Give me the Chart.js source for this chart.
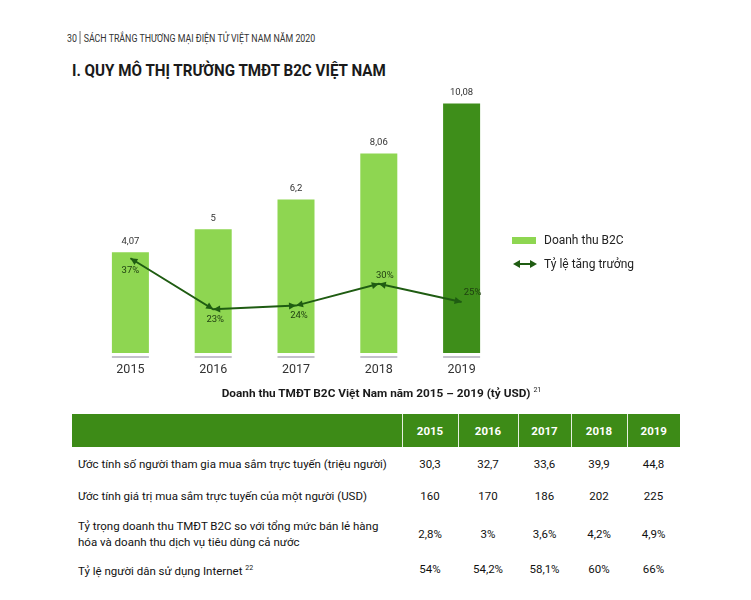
<!DOCTYPE html>
<html lang="vi">
<head>
<meta charset="utf-8">
<title>Quy mô thị trường TMĐT B2C Việt Nam</title>
<script src="https://cdn.jsdelivr.net/npm/chart.js@4.4.1/dist/chart.umd.min.js"></script>
<style>
  html, body { margin: 0; padding: 0; background: #fff; }
  body { width: 751px; height: 600px; position: relative; overflow: hidden; font-family: Roboto, "Open Sans", sans-serif; color: #222; }
  .abs { position: absolute; white-space: nowrap; }
  #pagehead { left: 67px; top: 31px; font-size: 10.5px; color: #333; transform: scaleX(0.84); transform-origin: left center; }
  #pagehead .sep { display: inline-block; width: 1px; height: 13px; background: #555; vertical-align: -2px; margin: 0 4px 0 3px; }
  #title { left: 72px; top: 61px; font-size: 16.5px; font-weight: 700; color: #1a1a1a; transform: scaleX(0.92); transform-origin: left center; }
  #chartBox { left: 70px; top: 70px; width: 450px; height: 320px; }
  .leg { font-size: 12px; color: #222; }
  .legBox { left: 512px; top: 237px; width: 24px; height: 7px; background: #8ed651; }
  #caption { left: 6px; width: 751px; top: 386px; text-align: center; font-size: 11.8px; font-weight: 700; color: #1a1a1a; }
  #caption sup { font-size: 7px; font-weight: 400; }
  table { position: absolute; left: 72px; top: 414px; border-collapse: collapse; table-layout: fixed; font-size: 11.5px; }
  th { background: #3d8b17; color: #fff; font-weight: 700; height: 33px; padding: 0; text-align: center; border-left: 1px solid #e6efe0; }
  th:first-child { border-left: none; }
  td { padding: 0 0 0 6px; color: #111; vertical-align: middle; line-height: 16px; }
  td.num { text-align: center; padding: 0; }
  td sup { font-size: 7px; }
</style>
</head>
<body>
<div id="pagehead" class="abs">30<span class="sep"></span>SÁCH TRẮNG THƯƠNG MẠI ĐIỆN TỬ VIỆT NAM NĂM 2020</div>
<div id="title" class="abs">I. QUY MÔ THỊ TRƯỜNG TMĐT B2C VIỆT NAM</div>

<div id="chartBox" class="abs"><canvas id="chart"></canvas></div>

<div class="abs legBox"></div>
<div class="abs leg" style="left:544px; top:233px;">Doanh thu B2C</div>
<svg class="abs" style="left:513px; top:259px;" width="24" height="10">
  <line x1="4" y1="5" x2="20" y2="5" stroke="#1f5c12" stroke-width="2"/>
  <polygon points="0,5 7,1 7,9" fill="#1f5c12"/>
  <polygon points="24,5 17,1 17,9" fill="#1f5c12"/>
</svg>
<div class="abs leg" style="left:544px; top:257px;">Tỷ lệ tăng trưởng</div>

<div id="caption" class="abs">Doanh thu TMĐT B2C Việt Nam năm 2015 – 2019 (tỷ USD) <sup>21</sup></div>

<table id="tbl"></table>

<script>
// chart data
const years = ['2015', '2016', '2017', '2018', '2019'];
const revenue = [4.07, 5, 6.2, 8.06, 10.08];      // Doanh thu B2C (tỷ USD)
const growth = [37, 23, 24, 30, 25];              // Tỷ lệ tăng trưởng (%)

// table data
const rowLabels = [
  'Ước tính số người tham gia mua sắm trực tuyến (triệu người)',
  'Ước tính giá trị mua sắm trực tuyến của một người (USD)',
  'Tỷ trọng doanh thu TMĐT B2C so với tổng mức bán lẻ hàng<br>hóa và doanh thu dịch vụ tiêu dùng cả nước',
  'Tỷ lệ người dân sử dụng Internet <sup>22</sup>'
];
const buyers = [30.3, 32.7, 33.6, 39.9, 44.8];
const spendPerPerson = [160, 170, 186, 202, 225];
const retailShare = [2.8, 3, 3.6, 4.2, 4.9];
const internetUsers = [54, 54.2, 58.1, 60, 66];

const vn = v => String(v).replace('.', ',');

// build the table
const rows = [
  buyers.map(vn),
  spendPerPerson.map(vn),
  retailShare.map(v => vn(v) + '%'),
  internetUsers.map(v => vn(v) + '%')
];
const rowHeights = [34, 30, 45, 26];
const colWidths = [330, 56, 60, 53, 56, 53];
let html = '<colgroup>' + colWidths.map(w => '<col style="width:' + w + 'px">').join('') + '</colgroup>';
html += '<tr><th></th>' + years.map(y => '<th>' + y + '</th>').join('') + '</tr>';
rows.forEach((r, i) => {
  html += '<tr style="height:' + rowHeights[i] + 'px"><td>' + rowLabels[i] + '</td>' +
    r.map(v => '<td class="num">' + v + '</td>').join('') + '</tr>';
});
document.getElementById('tbl').innerHTML = html;

const lightGreen = '#8ed651';
const darkGreen = '#3e8e1a';
const lineGreen = '#1f5c12';

// label offsets for the growth percentages (dx, dy from the point)
const growthLabelOffset = [[0, 12], [2, 10], [3, 10], [6, -8], [11, -9]];

const decor = {
  id: 'decor',
  afterDatasetsDraw(chart) {
    const ctx = chart.ctx;
    const bars = chart.getDatasetMeta(1).data;
    const pts = chart.getDatasetMeta(0).data;
    ctx.save();

    // grey baseline under each bar
    ctx.fillStyle = '#c4c2cc';
    bars.forEach(b => {
      ctx.fillRect(b.x - b.width / 2, b.base + 3, b.width, 2);
    });

    // bar value labels
    ctx.fillStyle = '#333';
    ctx.font = '9.5px Roboto, sans-serif';
    ctx.textAlign = 'center';
    ctx.textBaseline = 'middle';
    bars.forEach((b, i) => {
      ctx.fillText(vn(revenue[i]), b.x, b.y - 11);
    });

    // arrowheads at both ends of each segment
    ctx.fillStyle = lineGreen;
    const head = (x, y, ang) => {
      const L = 7, W = 3.5;
      ctx.beginPath();
      ctx.moveTo(x, y);
      ctx.lineTo(x - L * Math.cos(ang) + W * Math.sin(ang), y - L * Math.sin(ang) - W * Math.cos(ang));
      ctx.lineTo(x - L * Math.cos(ang) - W * Math.sin(ang), y - L * Math.sin(ang) + W * Math.cos(ang));
      ctx.closePath();
      ctx.fill();
    };
    for (let i = 0; i < pts.length - 1; i++) {
      const a = pts[i], b = pts[i + 1];
      const ang = Math.atan2(b.y - a.y, b.x - a.x);
      head(b.x, b.y, ang);
      head(a.x, a.y, ang + Math.PI);
    }

    // growth labels
    ctx.fillStyle = '#1e3d10';
    ctx.font = '9.5px Roboto, sans-serif';
    pts.forEach((p, i) => {
      const o = growthLabelOffset[i];
      ctx.fillText(growth[i] + '%', p.x + o[0], p.y + o[1]);
    });
    ctx.restore();
  }
};

new Chart(document.getElementById('chart'), {
  type: 'bar',
  data: {
    labels: years,
    datasets: [
      {
        type: 'line',
        label: 'Tỷ lệ tăng trưởng',
        data: growth,
        yAxisID: 'y1',
        borderColor: lineGreen,
        borderWidth: 2,
        pointRadius: 0,
        tension: 0,
        order: 0
      },
      {
        type: 'bar',
        label: 'Doanh thu B2C',
        data: revenue,
        yAxisID: 'y',
        backgroundColor: [lightGreen, lightGreen, lightGreen, lightGreen, darkGreen],
        barPercentage: 0.447,
        categoryPercentage: 1,
        order: 1
      }
    ]
  },
  options: {
    responsive: true,
    maintainAspectRatio: false,
    animation: false,
    layout: { padding: { left: 19, right: 17, top: 10.75, bottom: 0 } },
    plugins: { legend: { display: false }, tooltip: { enabled: false } },
    scales: {
      x: {
        grid: { display: false, drawTicks: false },
        border: { display: false },
        ticks: { color: '#333', font: { family: 'Roboto', size: 12.5 }, padding: 9 },
        afterFit(s) { s.height = 37; }
      },
      y: { display: false, min: 0, max: 11 },
      y1: { display: false, min: 11, max: 85.7 }
    }
  },
  plugins: [decor]
});
</script>
</body>
</html>
